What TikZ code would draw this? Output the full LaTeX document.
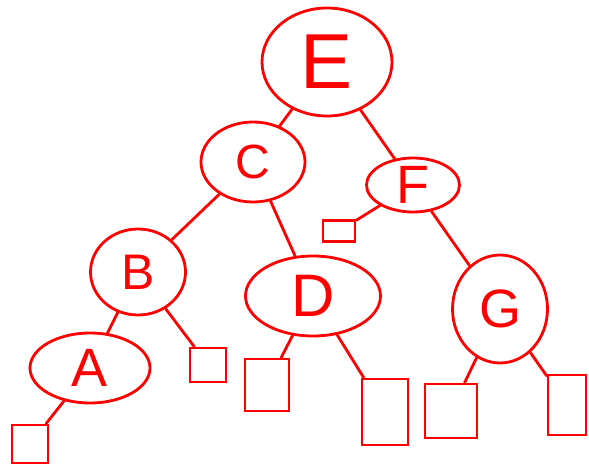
\documentclass[tikz,border=0pt]{standalone}
\usepackage{fontspec}
\setmainfont{Liberation Sans}
\usetikzlibrary{shapes.geometric}
\begin{document}
\begin{tikzpicture}[x=1pt,y=-1pt,
  link/.style={draw=red,line width=2.8pt,line cap=round},
  knot/.style={ellipse,draw=red,line width=2.8pt,inner sep=0pt,text=red,font=\fontsize{54}{54}\selectfont},
  leaf/.style={rectangle,draw=red,line width=2.8pt,inner sep=0pt}]
\useasboundingbox (0,0) rectangle (589,468);
\node[knot, minimum width=130pt, minimum height=108pt, font=\fontsize{78}{78}\selectfont] (e) at (327,62) {E};
\node[knot, minimum width=104pt, minimum height=80pt, font=\fontsize{48}{48}\selectfont] (c) at (253,162) {C};
\node[knot, minimum width=93pt, minimum height=54pt] (f) at (413,185) {F};
\node[knot, minimum width=95pt, minimum height=86pt, font=\fontsize{50}{50}\selectfont] (b) at (138,272) {B};
\node[knot, minimum width=135pt, minimum height=80pt, font=\fontsize{60}{60}\selectfont] (d) at (313,296) {D};
\node[knot, minimum width=95pt, minimum height=108pt] (g) at (500,309) {G};
\node[knot, minimum width=120pt, minimum height=70pt] (a) at (90,368) {A};

\node[leaf, minimum width=32pt, minimum height=21pt] (fl) at (339,231) {};
\node[leaf, minimum width=36pt, minimum height=34pt] (br) at (208,365) {};
\node[leaf, minimum width=36pt, minimum height=38pt] (al) at (30,444) {};
\node[leaf, minimum width=44pt, minimum height=52pt] (dl) at (267,385) {};
\node[leaf, minimum width=46pt, minimum height=66pt] (dr) at (385,412) {};
\node[leaf, minimum width=52pt, minimum height=54pt] (gl) at (451,411) {};
\node[leaf, minimum width=38pt, minimum height=60pt] (gr) at (567,405) {};

\draw[link] (e) -- (c);
\draw[link] (e) -- (f);
\draw[link] (c) -- (b);
\draw[link] (c) -- (d);
\draw[link] (f) -- (fl);
\draw[link] (f) -- (g);
\draw[link] (b) -- (a);
\draw[link] (b) -- (br);
\draw[link] (a) -- (al);
\draw[link] (d) -- (dl);
\draw[link] (d) -- (dr);
\draw[link] (g) -- (gl);
\draw[link] (g) -- (gr);
\end{tikzpicture}
\end{document}
